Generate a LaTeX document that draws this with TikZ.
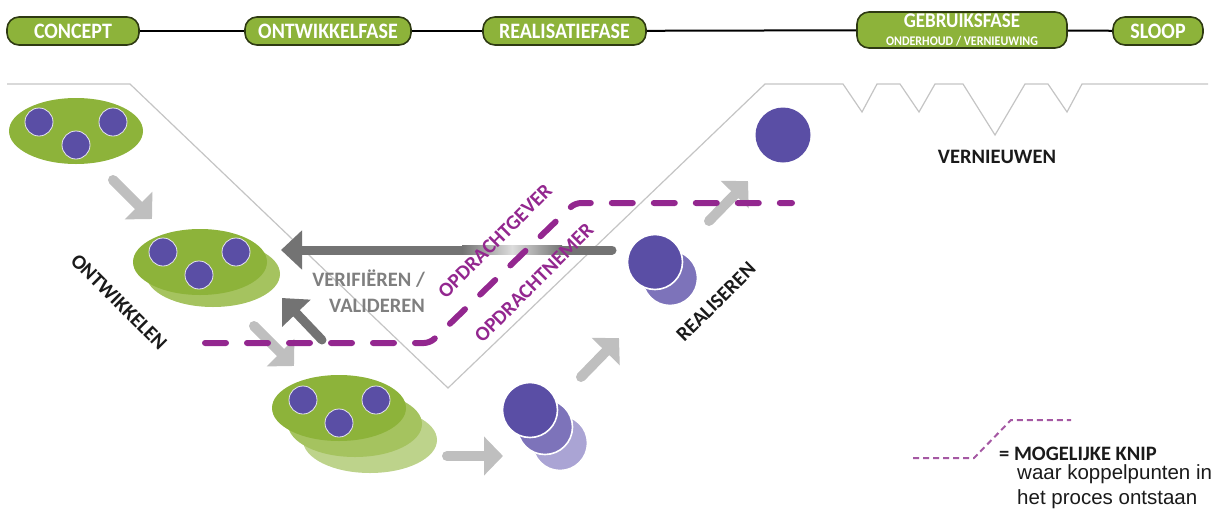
\documentclass[tikz,border=0pt]{standalone}
\usepackage{graphicx}
\usepackage{fontspec}
\setmainfont{Carlito}
\newfontfamily\legendfont{Liberation Sans}
\usetikzlibrary{arrows.meta,shapes.geometric}

\definecolor{pillgreen}{HTML}{8DB33A}
\definecolor{pilledge}{HTML}{2E3A12}
\definecolor{leafA}{HTML}{8DB33A}
\definecolor{leafB}{HTML}{A5C35F}
\definecolor{leafC}{HTML}{BDD38B}
\definecolor{dotA}{HTML}{5A4EA5}
\definecolor{dotB}{HTML}{7D73BA}
\definecolor{dotC}{HTML}{AAA4D4}
\definecolor{cut}{HTML}{93278F}
\definecolor{cutlight}{HTML}{A558A3}
\definecolor{flowlight}{HTML}{BFBFBF}
\definecolor{flowdark}{HTML}{737373}
\definecolor{track}{HTML}{C4C4C4}
\definecolor{ink}{HTML}{1A1A1A}
\definecolor{verify}{HTML}{7F7F7F}

% phase captions are set slightly taller than wide
\newcommand{\tallcap}[1]{\scalebox{1}[1.1]{#1}}

\tikzset{
  phase/.style={draw=pilledge, line width=1.6pt, fill=pillgreen, rounded corners=12pt,
    text=white, font=\bfseries\fontsize{20}{21}\selectfont, minimum height=28pt, inner sep=0pt},
  timeline/.style={draw=black, line width=2pt},
  leaf/.style={ellipse, minimum width=134pt, minimum height=66pt, inner sep=0pt},
  seed/.style={circle, fill=dotA, draw=white!85!dotA, line width=0.8pt, minimum size=28pt, inner sep=0pt},
  disc/.style={circle, draw=white, line width=1.6pt, minimum size=55pt, inner sep=0pt},
  flowlightarrow/.style={draw=flowlight, line width=10pt, line cap=round, -{Triangle[width=38pt,length=19pt]}},
  flowdarkarrow/.style={draw=flowdark, line width=9pt, line cap=round, -{Triangle[width=38pt,length=21pt]}},
  cutline/.style={draw=cut, line width=6pt, line cap=round, dash pattern=on 21pt off 21pt, rounded corners=6pt},
  lbl/.style={font=\bfseries\fontsize{20.5}{22}\selectfont, text=ink, inner sep=0pt},
  track/.style={draw=track, line width=1.2pt}
}

\begin{document}
\begin{tikzpicture}[x=1pt,y=-1pt]
\useasboundingbox (0,0) rectangle (1219,509);

% phase bar
\node[phase, minimum width=132pt] (concept) at (73,31) {\tallcap{CONCEPT}};
\node[phase, minimum width=166pt] (ontw) at (328,31) {\tallcap{ONTWIKKELFASE}};
\node[phase, minimum width=163pt] (real) at (564.5,31) {\tallcap{REALISATIEFASE}};
\node[phase, minimum width=210pt, minimum height=36pt, align=center] (gebr) at (962,30)
  {\tallcap{\fontsize{19}{20}\selectfont GEBRUIKSFASE}\\[-3pt]\tallcap{\fontsize{12}{13}\selectfont ONDERHOUD / VERNIEUWING}};
\node[phase, minimum width=90pt] (sloop) at (1158,31) {\tallcap{SLOOP}};
\draw[timeline] (concept) -- (ontw);
\draw[timeline] (ontw) -- (real);
\draw[timeline] (real) -- (gebr);
\draw[timeline] (gebr) -- (sloop);

% V-shaped track with renewal notches
\draw[track] (7,84) -- (130,84) -- (448,388) -- (765,84) -- (843,84) -- (862,112) -- (877,84)
  -- (900,84) -- (919,112) -- (935,84) -- (963,84) -- (995,135) -- (1025,84)
  -- (1048,84) -- (1067,112) -- (1082,84) -- (1208,84);

% concept ellipse
\node[leaf, fill=leafA] (ell1) at (76,131) {};
\node[seed] (s1a) at (39,122) {};
\node[seed] (s1b) at (76,145) {};
\node[seed] (s1c) at (113,122) {};

% development ellipse, two layers
\node[leaf, fill=leafB] (ell2b) at (213,274) {};
\node[leaf, fill=leafA] (ell2) at (200,262) {};
\node[seed] (s2a) at (163,252) {};
\node[seed] (s2b) at (199,275) {};
\node[seed] (s2c) at (236,252) {};

% developed ellipse, three layers
\node[leaf, fill=leafC] (ell3c) at (370,440) {};
\node[leaf, fill=leafB] (ell3b) at (355,424) {};
\node[leaf, fill=leafA] (ell3) at (339,408) {};
\node[seed] (s3a) at (303,400) {};
\node[seed] (s3b) at (339,423) {};
\node[seed] (s3c) at (376,400) {};

% realisation discs
\node[disc, fill=dotC] (d1c) at (560,443) {};
\node[disc, fill=dotB] (d1b) at (545,427) {};
\node[disc, fill=dotA] (d1a) at (530,410) {};

\node[disc, fill=dotB] (d2b) at (670,278) {};
\node[disc, fill=dotA] (d2a) at (655,262) {};

\node[disc, fill=dotA, draw=none] (d3) at (783,135) {};

% flow arrows
\coordinate (a1s) at (113,180); \coordinate (a1e) at (152,219);
\coordinate (a2s) at (254,326); \coordinate (a2e) at (294,366);
\coordinate (a3s) at (447,456); \coordinate (a3e) at (503,456);
\coordinate (a4s) at (581,377); \coordinate (a4e) at (619,338);
\coordinate (a5s) at (709,221); \coordinate (a5e) at (748,181);
\draw[flowlightarrow] (a1s) -- (a1e);
\draw[flowlightarrow] (a2s) -- (a2e);
\draw[flowlightarrow] (a3s) -- (a3e);
\draw[flowlightarrow] (a4s) -- (a4e);
\draw[flowlightarrow] (a5s) -- (a5e);

% verification arrows
\coordinate (vbs) at (612,250); \coordinate (vbe) at (281,250);
\coordinate (vss) at (322,340); \coordinate (vse) at (282,298);
\draw[flowdarkarrow] (vbs) -- (vbe);
\shade[left color=flowdark, right color=flowdark, middle color=flowdark!25] (462,245.5) rectangle (562,254.5);
\draw[flowdarkarrow] (vss) -- (vse);

\node[font=\bfseries\fontsize{20.5}{26}\selectfont, text=verify, align=right, anchor=east, inner sep=0pt] (verif) at (425,291)
  {VERIFI\"EREN /\\VALIDEREN};

% cut line between client and contractor
\coordinate (c1) at (205,343);
\coordinate (c2) at (430,343);
\coordinate (c3) at (575,203);
\coordinate (c4) at (792,203);
\draw[cutline] (c1) -- (c2) -- (c3) -- (c4);

\node[lbl, text=cut, rotate=45] (opg) at (495,241) {OPDRACHTGEVER};
\node[lbl, text=cut, rotate=45] (opn) at (534,283) {OPDRACHTNEMER};

% stage labels
\node[lbl, rotate=-45] (ontwl) at (119,302) {ONTWIKKELEN};
\node[lbl, rotate=45] (reall) at (716,302) {REALISEREN};
\node[lbl] (vern) at (997,157) {VERNIEUWEN};

% legend
\coordinate (l1) at (913,458);
\coordinate (l2) at (974,458);
\coordinate (l3) at (1011,420);
\coordinate (l4) at (1071,420);
\draw[draw=cutlight, line width=2pt, dash pattern=on 6pt off 4pt] (l1) -- (l2) -- (l3) -- (l4);
\node[lbl, anchor=base west] (knip) at (999,460) {= MOGELIJKE KNIP};
\node[anchor=base west, inner sep=0pt, text=ink, font=\legendfont\fontsize{20.5}{25}\selectfont] (knipt1) at (1017,479)
  {waar koppelpunten in};
\node[anchor=base west, inner sep=0pt, text=ink, font=\legendfont\fontsize{20.5}{25}\selectfont] (knipt2) at (1017,504)
  {het proces ontstaan};
\end{tikzpicture}
\end{document}
